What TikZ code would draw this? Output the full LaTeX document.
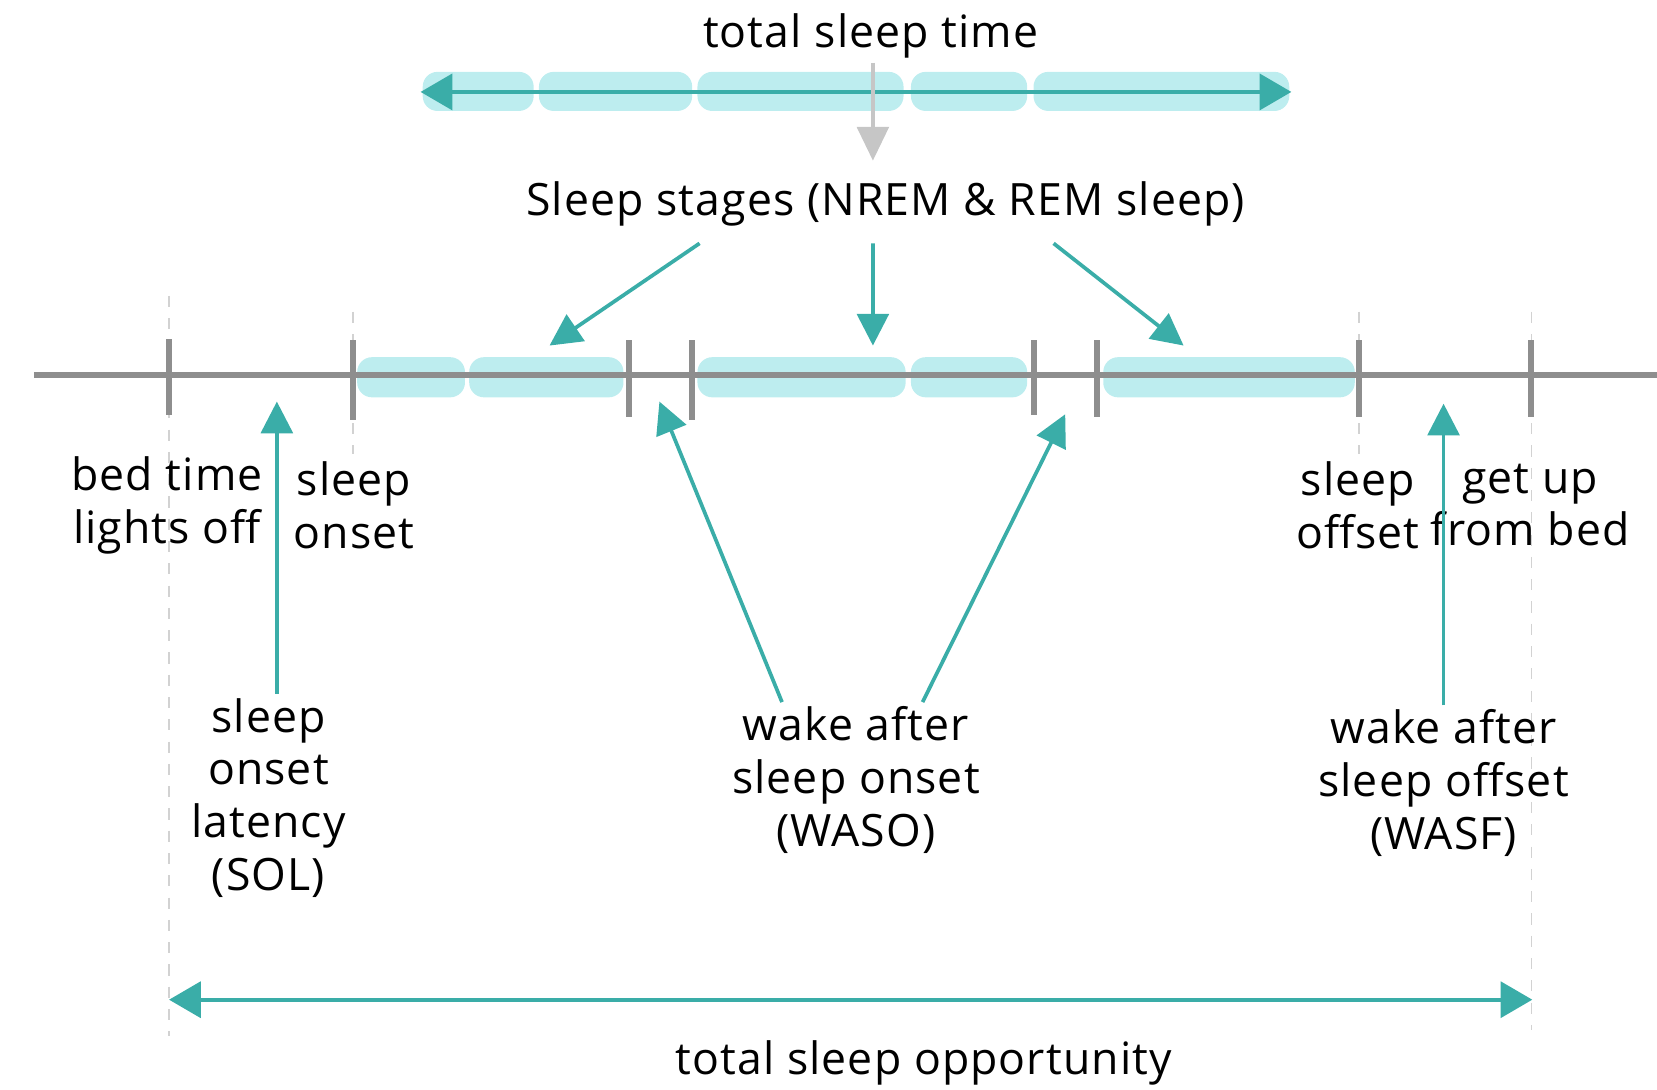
\documentclass[tikz,border=0pt]{standalone}
\usepackage{fontspec}
\setmainfont[LetterSpace=2.5]{Open Sans}
\usetikzlibrary{arrows.meta,calc,positioning}
\definecolor{tealc}{HTML}{3AADA8}
\definecolor{segc}{HTML}{BDEDEF}
\definecolor{linec}{HTML}{8E8E8E}
\definecolor{pointc}{HTML}{C6C6C6}
\definecolor{dashc}{HTML}{D2D2D2}

\begin{document}
\begin{tikzpicture}[
    lbl/.style={font=\fontsize{12}{14.2}\selectfont, align=center, inner sep=1pt},
    seg/.style={fill=segc, rounded corners=0.14cm},
    tick/.style={linec, line width=1.6pt},
    guide/.style={dashc, dashed, line width=0.4pt},
    tealarr/.style={tealc, line width=1pt, -{Triangle[length=0.3cm, width=0.3cm]}},
    bothway/.style={tealc, line width=1pt, {Triangle[length=0.3cm, width=0.34cm]}-{Triangle[length=0.3cm, width=0.34cm]}},
    greyarr/.style={pointc, line width=1pt, -{Triangle[length=0.32cm, width=0.3cm]}}
  ]
  \useasboundingbox (0,0) rectangle (15.68,-10.31);
  % total sleep time
  \fill[seg] (4.00,-0.68) rectangle (5.05,-1.05);
  \fill[seg] (5.10,-0.68) rectangle (6.55,-1.05);
  \fill[seg] (6.60,-0.68) rectangle (8.55,-1.05);
  \fill[seg] (8.62,-0.68) rectangle (9.72,-1.05);
  \fill[seg] (9.78,-0.68) rectangle (12.20,-1.05);
  \coordinate (tl) at (3.98,-0.87);
  \coordinate (tr) at (12.22,-0.87);
  \draw[bothway] (tl) -- (tr);
  \node[lbl] (tst) at (8.24,-0.34) {total sleep time};
  \node[lbl] (stages) at (8.38,-1.93) {Sleep stages (NREM \& REM sleep)};
  \coordinate (stagetip) at (8.26,-1.52);
  \draw[greyarr] (tst.south -| stagetip) -- (stagetip);
  % guide lines
  \draw[guide] (1.60,-2.80) -- (1.60,-9.80);
  \draw[guide] (3.34,-2.95) -- (3.34,-4.30);
  \draw[guide] (12.86,-2.95) -- (12.86,-4.30);
  \draw[guide] (14.49,-2.95) -- (14.49,-9.75);
  % night time line
  \fill[seg] (3.38,-3.38) rectangle (4.40,-3.76);
  \fill[seg] (4.44,-3.38) rectangle (5.90,-3.76);
  \fill[seg] (6.60,-3.38) rectangle (8.57,-3.76);
  \fill[seg] (8.62,-3.38) rectangle (9.72,-3.76);
  \fill[seg] (10.44,-3.38) rectangle (12.82,-3.76);
  \draw[linec, line width=1.5pt] (0.32,-3.55) -- (15.68,-3.55);
  \draw[tick] (1.60,-3.21) -- (1.60,-3.93);
  \draw[tick] (3.34,-3.22) -- (3.34,-3.97);
  \draw[tick] (5.95,-3.22) -- (5.95,-3.95);
  \draw[tick] (6.55,-3.22) -- (6.55,-3.97);
  \draw[tick] (9.78,-3.22) -- (9.78,-3.93);
  \draw[tick] (10.38,-3.22) -- (10.38,-3.95);
  \draw[tick] (12.86,-3.22) -- (12.86,-3.95);
  \draw[tick] (14.49,-3.22) -- (14.49,-3.95);
  % Sleep stages
  \coordinate (st1) at (5.20,-3.27);
  \coordinate (st2) at (8.26,-3.27);
  \coordinate (st3) at (11.20,-3.27);
  \draw[tealarr] ([xshift=-1.76cm,yshift=-0.12cm]stages.south) -- (st1);
  \draw[tealarr] ([xshift=-0.12cm,yshift=-0.12cm]stages.south) -- (st2);
  \draw[tealarr] ([xshift=1.59cm,yshift=-0.12cm]stages.south) -- (st3);
  % time points
  \node[lbl] (bed) at (1.58,-4.78) {bed time\\lights off};
  \node[lbl] (onset) at (3.35,-4.78) {sleep\\onset};
  \node[lbl] (offset) at (12.85,-4.78) {sleep\\offset};
  \node[lbl] (getup) at (14.48,-4.78) {get up\\from bed};
  % SOL, WASO, WASF
  \node[lbl] (sol) at (2.54,-7.55) {sleep\\onset\\latency\\(SOL)};
  \node[lbl] (waso) at (8.10,-7.38) {wake after\\sleep onset\\(WASO)};
  \node[lbl] (wasf) at (13.66,-7.41) {wake after\\sleep offset\\(WASF)};
  \coordinate (solhead) at (2.62,-3.80);
  \coordinate (waso1) at (6.24,-3.80);
  \coordinate (waso2) at (10.08,-3.92);
  \coordinate (wasfhead) at (13.66,-3.82);
  \draw[tealarr] (sol.north -| solhead) -- (solhead);
  \draw[tealarr] ([xshift=-0.70cm]waso.north) -- (waso1);
  \draw[tealarr] ([xshift=0.63cm]waso.north) -- (waso2);
  \draw[tealarr] (wasf.north -| wasfhead) -- (wasfhead);
  % total sleep opportunity
  \coordinate (bl) at (1.60,-9.46);
  \coordinate (br) at (14.50,-9.46);
  \draw[bothway] (bl) -- (br);
  \node[lbl] (tso) at (8.74,-10.06) {total sleep opportunity};
\end{tikzpicture}
\end{document}
